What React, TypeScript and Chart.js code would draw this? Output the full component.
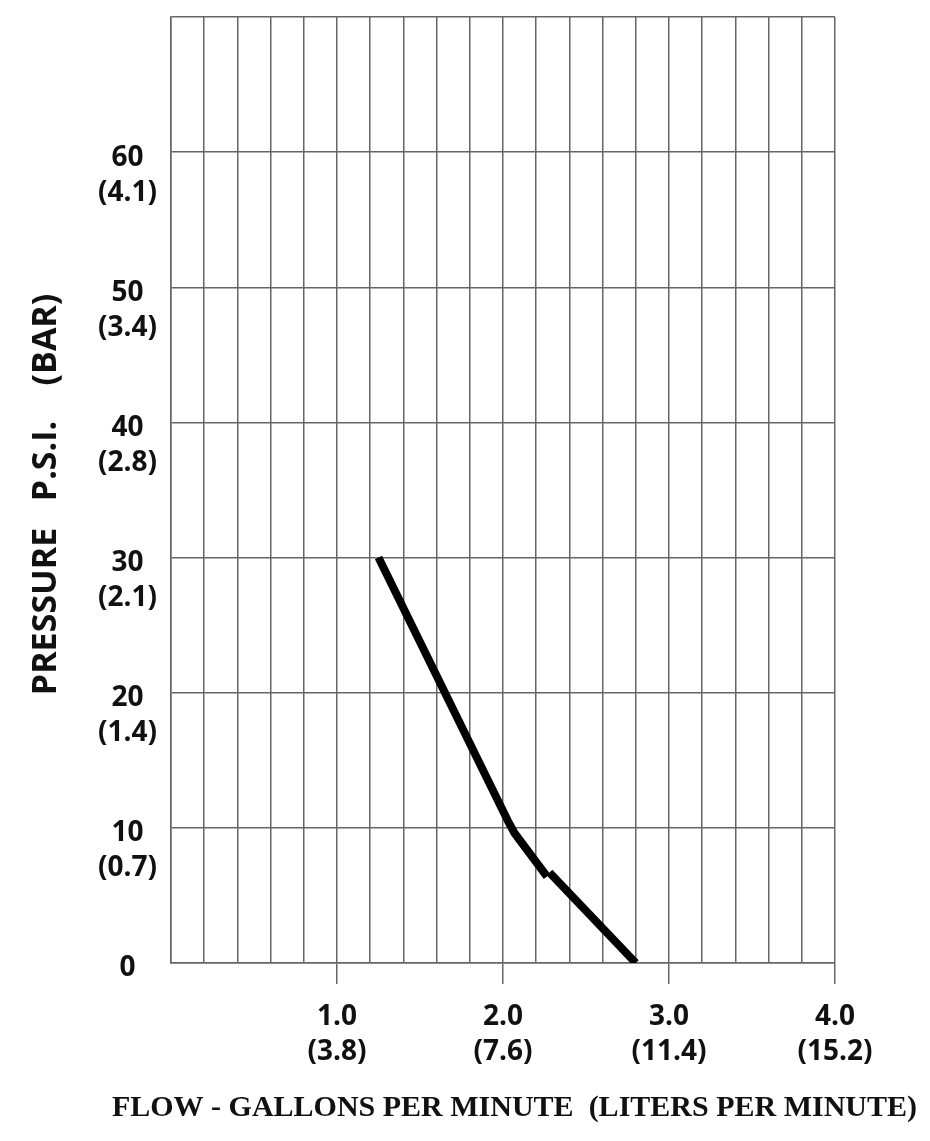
import React, { useEffect, useRef } from 'react';
import { Chart, registerables } from 'chart.js';

Chart.register(...registerables);

// Axis tick labels
const xMajorGpm = [1, 2, 3, 4];
const xGpmLabels = ['1.0', '2.0', '3.0', '4.0'];
const xLpmLabels = ['(3.8)', '(7.6)', '(11.4)', '(15.2)'];
const yPsiValues = [0, 10, 20, 30, 40, 50, 60];
const yPsiLabels = ['0', '10', '20', '30', '40', '50', '60'];
const yBarLabels = ['', '(0.7)', '(1.4)', '(2.1)', '(2.8)', '(3.4)', '(4.1)'];

// Flow curve (gallons per minute vs psi)
const upperGpm = [1.25, 2.03, 2.07, 2.265];
const upperPsi = [30, 10.5, 9.6, 6.4];
const lowerGpm = [2.28, 2.8];
const lowerPsi = [6.7, 0];

const xTitle = 'FLOW - GALLONS PER MINUTE  (LITERS PER MINUTE)';
const yTitle = 'PRESSURE   P.S.I.    (BAR) ';

const GRID = '#666';
const TEXT = '#111';
const tickFont = { family: '"Open Sans", sans-serif', size: 28, weight: 'bold' as const, lineHeight: 1.25 };
const tinyFont = { family: '"Open Sans", sans-serif', size: 1, weight: 'bold' as const, lineHeight: 1 };

const isMajor = (v: number) => xMajorGpm.some((m) => Math.abs(m - v) < 1e-6);
const yIndex = (v: number) => yPsiValues.findIndex((p) => Math.abs(p - v) < 1e-6);

export default function App() {
  const ref = useRef<HTMLCanvasElement>(null);

  useEffect(() => {
    const chart = new Chart(ref.current!, {
      type: 'line',
      data: {
        datasets: [
          {
            data: upperGpm.map((g, i) => ({ x: g, y: upperPsi[i] })),
            borderColor: '#000',
            borderWidth: 8,
            pointRadius: 0,
            tension: 0,
            fill: false,
            borderCapStyle: 'butt',
            borderJoinStyle: 'round',
          },
          {
            data: lowerGpm.map((g, i) => ({ x: g, y: lowerPsi[i] })),
            borderColor: '#000',
            borderWidth: 8,
            pointRadius: 0,
            tension: 0,
            fill: false,
            borderCapStyle: 'butt',
            borderJoinStyle: 'round',
          },
        ],
      },
      options: {
        animation: false,
        responsive: true,
        maintainAspectRatio: false,
        layout: { padding: { top: 17, right: 13, left: 0, bottom: 0 } },
        plugins: {
          legend: { display: false },
          tooltip: { enabled: false },
          title: {
            display: true,
            position: 'bottom',
            align: 'end',
            text: xTitle,
            color: TEXT,
            font: { family: '"Liberation Serif", serif', size: 30, weight: 'bold', lineHeight: 1.2 },
            padding: { top: 0, bottom: 15 },
          },
        },
        scales: {
          x: {
            type: 'linear',
            min: 0,
            max: 4,
            afterFit: (s: any) => {
              s.height = 127;
            },
            ticks: {
              stepSize: 0.2,
              autoSkip: false,
              maxRotation: 0,
              minRotation: 0,
              padding: 16,
              color: TEXT,
              font: tickFont,
              callback: (v: any) => {
                const idx = xMajorGpm.findIndex((m) => Math.abs(m - Number(v)) < 1e-6);
                return idx >= 0 ? [xGpmLabels[idx], xLpmLabels[idx]] : '';
              },
            },
            grid: {
              color: GRID,
              lineWidth: 1.5,
              tickLength: 21,
              tickColor: (ctx: any) => (ctx.tick && isMajor(ctx.tick.value) ? GRID : 'rgba(0,0,0,0)'),
            },
            border: { display: true, color: GRID, width: 1.5 },
          },
          y: {
            type: 'linear',
            min: 0,
            max: 70,
            afterFit: (s: any) => {
              s.width = 171;
            },
            ticks: {
              stepSize: 10,
              padding: 14,
              crossAlign: 'center',
              labelOffset: 23,
              color: TEXT,
              font: (ctx: any) => (ctx.tick && yIndex(ctx.tick.value) < 0 ? tinyFont : tickFont),
              callback: (v: any) => {
                const idx = yIndex(Number(v));
                return idx >= 0 ? [yPsiLabels[idx], yBarLabels[idx]] : '';
              },
            },
            grid: { color: GRID, lineWidth: 1.5, drawTicks: false },
            border: { display: true, color: GRID, width: 1.5 },
            title: {
              display: true,
              text: yTitle,
              color: TEXT,
              font: { family: '"Open Sans", sans-serif', size: 34, weight: 'bold', lineHeight: 1.2 },
              padding: { top: 26, bottom: 0 },
            },
          },
          yRightSpace: {
            type: 'linear',
            position: 'right',
            display: true,
            min: 0,
            max: 70,
            afterFit: (s: any) => {
              s.width = 82;
            },
            ticks: { display: false },
            grid: { display: false, drawTicks: false },
            border: { display: false },
          },
        },
      },
    } as any);
    return () => chart.destroy();
  }, []);

  return (
    <div style={{ position: 'absolute', left: 0, top: 0, width: 930, height: 1141, background: '#fff' }}>
      <canvas ref={ref} />
    </div>
  );
}
